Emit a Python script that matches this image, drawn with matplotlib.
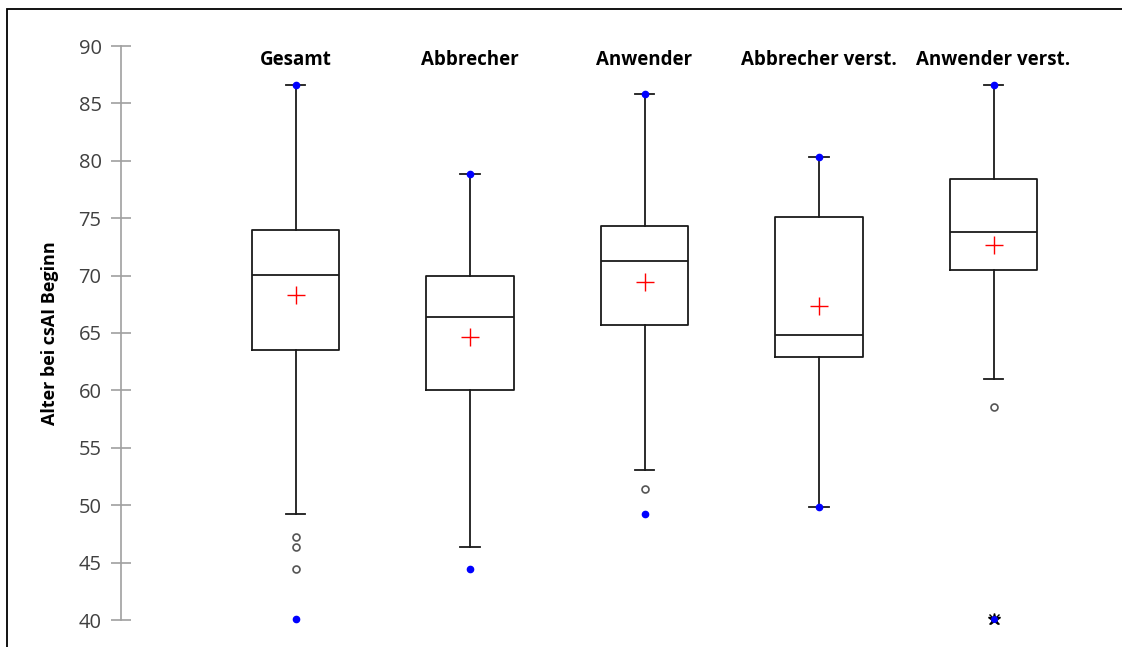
import matplotlib.pyplot as plt
from matplotlib.patches import Rectangle

# data
groups = ["Gesamt", "Abbrecher", "Anwender", "Abbrecher verst.", "Anwender verst."]
whislo = [49.2, 46.4, 53.1, 49.8, 61.0]
q1 = [63.5, 60.0, 65.7, 62.9, 70.5]
med = [70.05, 66.4, 71.3, 64.8, 73.8]
q3 = [74.0, 70.0, 74.3, 75.1, 78.4]
whishi = [86.6, 78.85, 85.8, 80.3, 86.6]
means = [68.3, 64.65, 69.4, 67.35, 72.7]
outliers = [[47.2, 46.4, 44.4], [], [51.4], [], [58.55]]
minima = [40.1, 44.4, 49.2, 49.8, 40.1]
maxima = [86.6, 78.85, 85.8, 80.3, 86.6]
extreme = [None, None, None, None, 40.1]  # far outlier shown as star

W, H = 1122, 647
fig = plt.figure(figsize=(W / 100, H / 100), dpi=100)
ax = fig.add_axes([121 / W, (H - 620) / H, (1110 - 121) / W, 574 / H])

stats = []
for i, g in enumerate(groups):
    stats.append(dict(label=g, whislo=whislo[i], q1=q1[i], med=med[i],
                      q3=q3[i], whishi=whishi[i], fliers=[]))
pos = list(range(1, len(groups) + 1))
ax.bxp(stats, positions=pos, widths=0.5, capwidths=0.11, showfliers=False,
       boxprops=dict(color="#1a1a1a", linewidth=1.3),
       medianprops=dict(color="#1a1a1a", linewidth=1.3),
       whiskerprops=dict(color="#1a1a1a", linewidth=1.3),
       capprops=dict(color="#1a1a1a", linewidth=1.3))

for i, p in enumerate(pos):
    ax.plot(p, means[i], "+", color="red", ms=13, mew=1.0, clip_on=False)
    if outliers[i]:
        ax.plot([p] * len(outliers[i]), outliers[i], "o", mfc="white",
                mec="#555555", ms=5, mew=1.2, clip_on=False)
    if extreme[i] is not None:
        ax.plot(p, extreme[i], "*", color="black", ms=9, clip_on=False)
        ax.plot(p, extreme[i], "x", color="black", ms=7, mew=1, clip_on=False)
        ax.plot(p, extreme[i], "o", color="blue", ms=4, clip_on=False)
        ax.plot(p, maxima[i], "o", color="blue", ms=4.5, clip_on=False)
    else:
        ax.plot([p, p], [minima[i], maxima[i]], "o", color="blue", ms=4.5,
                ls="none", clip_on=False)
    ax.text(p, 1.0 - (60 - 46) / 574, groups[i], transform=ax.get_xaxis_transform(),
            ha="center", va="center", fontsize=13.5, fontweight="bold",
            family="Open Sans")

ax.set_xlim(0, (1110 - 121) / 174.5)
ax.set_ylim(40, 90)
ax.set_yticks(range(40, 91, 5))
ax.set_xticks([])
for s in ["top", "right", "bottom"]:
    ax.spines[s].set_visible(False)
ax.spines["left"].set_color("#a0a0a0")
ax.spines["left"].set_linewidth(1.2)
ax.tick_params(axis="y", direction="inout", length=14, width=1.2,
               color="#a0a0a0", labelcolor="#404040", labelsize=14.5, pad=7)
for lab in ax.get_yticklabels():
    lab.set_family("Open Sans")
ax.set_ylabel("Alter bei csAI Beginn", fontsize=13, fontweight="bold",
              family="Open Sans", labelpad=14)

# outer frame, partly cut off at the right and bottom
fig.add_artist(Rectangle((7 / W, -0.1), 2, 1 - 9 / H + 0.1, transform=fig.transFigure,
                         fill=False, edgecolor="black", linewidth=1.3))

fig.savefig("out.png", dpi=100)
